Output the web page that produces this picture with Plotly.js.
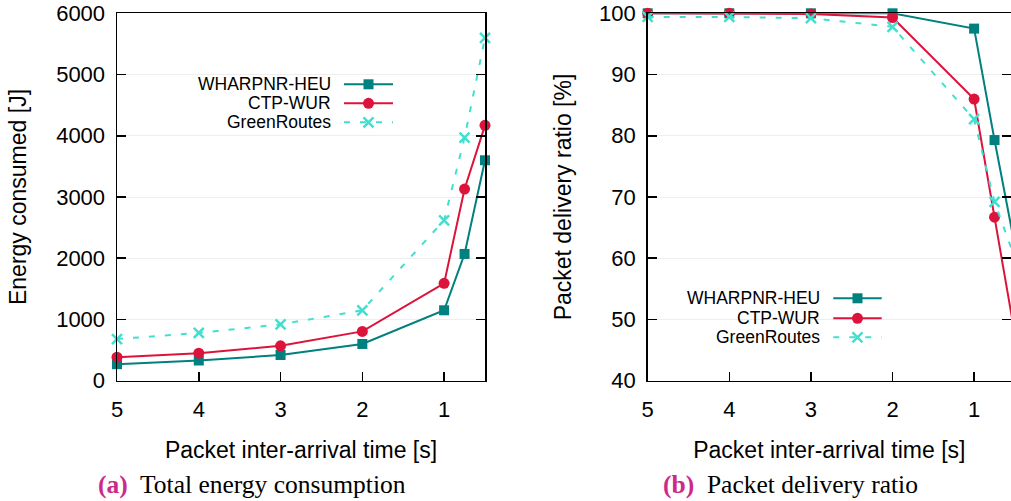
<!DOCTYPE html>
<html>
<head>
<meta charset="utf-8">
<script src="https://cdn.plot.ly/plotly-3.0.1.min.js"></script>
<style>html,body{margin:0;padding:0;background:#fff;overflow:hidden;}#chart{width:1011px;height:501px;}</style>
</head>
<body>
<div id="chart"></div>
<script>
// ---- data ----
const interArrival = [5, 4, 3, 2, 1, 0.75, 0.5];
const tickVals = [5, 4, 3, 2, 1];
const tickText = ["5", "4", "3", "2", "1"];
const seriesNames = ["WHARPNR-HEU", "CTP-WUR", "GreenRoutes"];

const wharpnrEnergy = [270, 330, 420, 600, 1150, 2070, 3600];
const ctpEnergy     = [385, 450, 570, 805, 1590, 3130, 4170];
const greenEnergy   = [680, 780, 920, 1150, 2620, 3970, 5600];

const wharpnrPdr = [100, 100, 100, 100, 97.5, 79.3, 62];
const ctpPdr     = [100, 100, 99.9, 99.3, 86.0, 66.7, 47.5];
const greenPdr   = [99.4, 99.4, 99.2, 97.8, 82.7, 69.2, 60];

const captionA = ["(a)", "Total energy consumption"];
const captionB = ["(b)", "Packet delivery ratio"];
const xTitle = "Packet inter-arrival time [s]";
const yTitleA = "Energy consumed [J]";
const yTitleB = "Packet delivery ratio [%]";

// ---- styles ----
const W = 1011, H = 501;
const px = x => x / W;
const py = y => 1 - y / H;
const colors = ["#00807f", "#dc143c", "#40e0d0"];
const symbols = ["square", "circle", "x-thin-open"];
const dashes = ["solid", "solid", "6px,10px"];
const msizes = [10, 11, 10];
const FONT = "Liberation Sans, Arial, sans-serif";

function mk(xs, ys, i, xa, ya, clip) {
  return {
    x: xs, y: ys, xaxis: xa, yaxis: ya, type: "scatter", mode: "lines+markers",
    name: seriesNames[i], showlegend: false, cliponaxis: clip,
    line: {color: colors[i], width: 2, dash: dashes[i]},
    marker: {symbol: symbols[i], size: msizes[i], color: colors[i],
             line: {color: colors[i], width: i === 2 ? 2.5 : 0}}
  };
}

const data = [
  mk(interArrival, wharpnrEnergy, 0, "x", "y", false),
  mk(interArrival, ctpEnergy, 1, "x", "y", false),
  mk(interArrival, greenEnergy, 2, "x", "y", false),
  mk(interArrival, wharpnrPdr, 0, "x2", "y2", false),
  mk(interArrival, ctpPdr, 1, "x2", "y2", false),
  mk(interArrival, greenPdr, 2, "x2", "y2", false)
];

const xBase = {
  showline: true, linecolor: "#000", linewidth: 1.5, mirror: true,
  ticks: "inside", ticklen: 9, tickwidth: 1.5, tickcolor: "#000",
  tickvals: tickVals, ticktext: tickText, showgrid: false, zeroline: false,
  tickfont: {family: FONT, size: 22, color: "#000"},
  ticklabelstandoff: 8,
  title: {text: xTitle, font: {family: FONT, size: 23, color: "#000"}, standoff: 21}
};
const yBase = {
  showline: true, linecolor: "#000", linewidth: 1.5, mirror: "ticks",
  ticks: "inside", ticklen: 9, tickwidth: 1.5, tickcolor: "#000",
  showgrid: true, gridcolor: "#eeeeee", gridwidth: 1, zeroline: false,
  tickfont: {family: FONT, size: 22, color: "#000"},
  ticklabelstandoff: 6
};

const layout = {
  width: W, height: H,
  margin: {l: 0, r: 0, t: 0, b: 0, pad: 0},
  paper_bgcolor: "#fff", plot_bgcolor: "#fff",
  font: {family: FONT, color: "#000"},
  xaxis: Object.assign({}, xBase, {domain: [px(117), px(485)], range: [5, 0.5], anchor: "y"}),
  yaxis: Object.assign({}, yBase, {domain: [py(380.7), py(13.3)], range: [0, 6000], dtick: 1000, anchor: "x",
    title: {text: yTitleA, font: {family: FONT, size: 23, color: "#000"}, standoff: 23}}),
  xaxis2: Object.assign({}, xBase, {domain: [px(647.7), 1], range: [5, 0.548], anchor: "y2"}),
  yaxis2: Object.assign({}, yBase, {domain: [py(380.7), py(13.3)], range: [40, 100], dtick: 10, anchor: "x2",
    title: {text: yTitleB, font: {family: FONT, size: 23, color: "#000"}, standoff: 21}}),
  shapes: [],
  annotations: []
};

// custom gnuplot-style legends (text left, sample right)
function addLegend(textRight, lineX0, lineX1, rowsY) {
  const mx = (lineX0 + lineX1) / 2;
  rowsY.forEach((yy, i) => {
    layout.annotations.push({
      xref: "paper", yref: "paper", x: px(textRight), y: py(yy), xanchor: "right", yanchor: "middle",
      text: seriesNames[i], showarrow: false, font: {family: FONT, size: 17.5, color: "#000"}
    });
    layout.shapes.push({
      type: "line", xref: "paper", yref: "paper", x0: px(lineX0), x1: px(lineX1), y0: py(yy), y1: py(yy),
      line: {color: colors[i], width: 2, dash: i === 2 ? "6px,10px" : "solid"}
    });
    const base = {xref: "paper", yref: "paper", xsizemode: "pixel", ysizemode: "pixel",
                  xanchor: px(mx), yanchor: py(yy)};
    if (i === 0) {
      layout.shapes.push(Object.assign({}, base, {type: "rect", x0: -5, x1: 5, y0: -5, y1: 5,
        fillcolor: colors[0], line: {width: 0}}));
    } else if (i === 1) {
      layout.shapes.push(Object.assign({}, base, {type: "circle", x0: -5.5, x1: 5.5, y0: -5.5, y1: 5.5,
        fillcolor: colors[1], line: {width: 0}}));
    } else {
      layout.shapes.push(Object.assign({}, base, {type: "path", path: "M-5,-5L5,5M-5,5L5,-5",
        line: {color: colors[2], width: 2.5}}));
    }
  });
}
addLegend(333, 344, 393, [84.3, 103.3, 122.3]);
addLegend(821.7, 833.3, 881.7, [298.3, 318.3, 337.3]);

// sub-figure captions
function addCaption(x, cap) {
  layout.annotations.push({
    xref: "paper", yref: "paper", x: px(x), y: py(484), xanchor: "left", yanchor: "middle", showarrow: false,
    text: '<span style="color:#cc2a8a"><b>' + cap[0] + '</b></span>  ' + cap[1],
    font: {family: "Liberation Serif, Times New Roman, serif", size: 25.5, color: "#000"}
  });
}
addCaption(96, captionA);
addCaption(661, captionB);

Plotly.newPlot("chart", data, layout, {staticPlot: true, displayModeBar: false});
</script>
</body>
</html>
